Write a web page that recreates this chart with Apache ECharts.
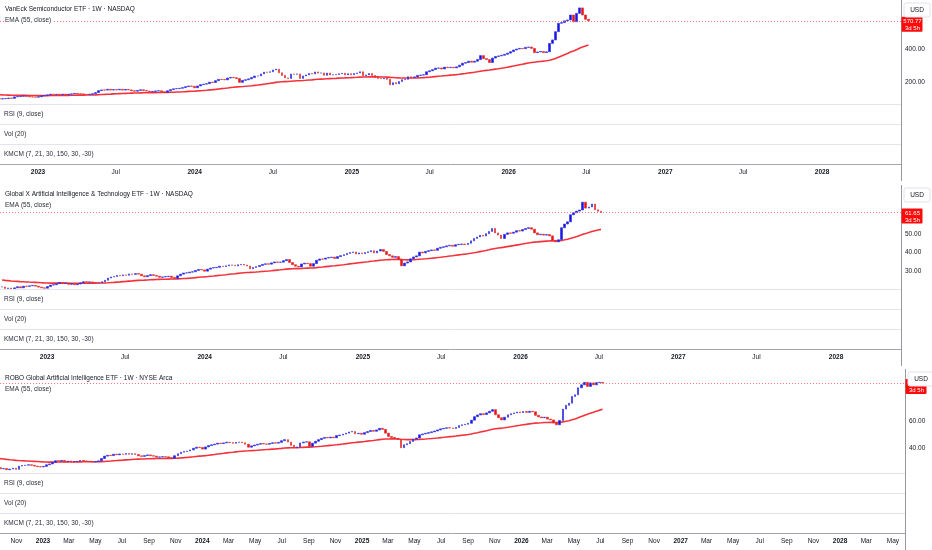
<!DOCTYPE html>
<html><head><meta charset="utf-8">
<script src="https://cdn.jsdelivr.net/npm/echarts@6/dist/echarts.min.js"></script>
<style>html,body{margin:0;padding:0;background:#fff}#c{width:932px;height:550px}</style>
</head><body><div id="c"></div>
<script>
// ---------------- DATA ----------------
const weekStart = '2022-09-19'; // first weekly bar (Monday), one bar per week
const titles = [
  'VanEck Semiconductor ETF \u00b7 1W \u00b7 NASDAQ',
  'Global X Artificial Intelligence & Technology ETF \u00b7 1W \u00b7 NASDAQ',
  'ROBO Global Artificial Intelligence ETF \u00b7 1W \u00b7 NYSE Arca'
];
const emaLabel = 'EMA (55, close)';
const paneLabels = ['RSI (9, close)', 'Vol (20)', 'KMCM (7, 21, 30, 150, 30, -30)'];
const currency = 'USD';
const countdown = '3d 5h';

const closesSMH = [
  100, 98, 97, 99, 100, 103, 101, 110, 112, 114, 116, 113, 110, 109, 108,
  111, 116, 118, 122, 126, 124, 126, 122, 126, 122, 126, 128, 131, 129, 128, 125, 124, 126, 129, 136, 148, 152, 151, 156, 151, 154, 152, 156, 151, 155, 152, 147, 144, 149, 153, 148, 145, 141, 143, 146, 147, 141, 137, 147, 154, 159, 160, 162, 166, 172, 176, 174,
  165, 176, 184, 187, 190, 199, 197, 208, 216, 215, 213, 224, 228, 226, 221, 198, 210, 214, 219, 227, 236, 237, 249, 260, 259, 262, 273, 278, 256, 240, 225, 222, 248, 247, 249, 222, 237, 243, 252, 249, 261, 254, 255, 241, 254, 243, 244, 246, 250, 253, 243, 250, 244,
  251, 255, 262, 238, 243, 251, 240, 227, 222, 220, 224, 216, 183, 196, 189, 203, 214, 216, 232, 227, 231, 240, 242, 244, 262, 268, 275, 284, 285, 279, 290, 287, 289, 286, 292, 302, 314, 318, 326, 320, 326, 336, 360, 342, 336, 318, 345, 355, 358, 362, 368, 375,
  384, 394, 400, 404, 402, 410, 412, 404, 378, 382, 385, 378, 383, 434, 455, 505, 556, 560, 571, 576, 606, 565, 616, 649, 606, 580, 570.77
];
const closesAIQ = [
  21.4, 20.6, 20.8, 20.4, 20.9, 21.5, 20.9, 21.8, 21.7, 22.0, 22.2, 21.8, 21.3, 20.9, 20.7,
  21.6, 22.4, 22.6, 23.2, 23.8, 23.4, 23.5, 22.8, 23.2, 22.6, 23.0, 23.6, 24.2, 24.0, 24.1, 23.8, 23.6, 23.7, 24.2, 25.0, 26.2, 26.8, 27.0, 27.6, 27.4, 27.9, 27.7, 28.4, 28.2, 28.6, 28.3, 27.4, 26.9, 27.5, 28.0, 27.6, 27.2, 26.6, 26.8, 27.0, 27.2, 26.5, 26.0, 27.4, 28.3, 28.9, 29.0, 29.4, 29.6, 30.3, 30.8, 30.6,
  29.9, 31.0, 31.6, 31.8, 32.0, 32.6, 32.4, 32.8, 33.3, 33.1, 32.8, 33.4, 33.6, 33.2, 32.7, 31.2, 31.9, 32.4, 33.0, 33.6, 33.9, 33.7, 34.4, 34.9, 34.7, 34.8, 35.6, 36.2, 34.6, 33.4, 32.6, 32.2, 33.8, 34.2, 34.0, 32.6, 34.0, 35.8, 36.5, 36.4, 37.0, 37.3, 37.5, 36.8, 37.8, 38.3, 38.8, 39.5, 40.0, 40.3, 39.2, 39.8, 39.4,
  40.0, 40.4, 41.0, 39.8, 40.8, 41.6, 40.6, 38.9, 38.2, 37.4, 37.8, 36.4, 32.8, 34.3, 34.9, 36.6, 37.6, 38.2, 40.2, 39.8, 40.6, 41.0, 41.4, 41.2, 42.3, 42.8, 43.1, 43.6, 43.9, 43.4, 44.2, 44.4, 44.6, 44.3, 45.0, 46.3, 47.6, 48.4, 49.3, 48.9, 50.2, 51.4, 53.0, 50.6, 49.4, 47.6, 49.8, 50.6, 50.4, 51.0, 51.8, 51.6,
  52.4, 53.0, 53.4, 52.6, 50.6, 49.6, 49.9, 49.4, 49.7, 49.0, 46.6, 45.8, 46.9, 53.4, 55.4, 56.6, 60.4, 61.5, 62.4, 63.0, 67.2, 64.0, 64.6, 66.2, 63.1, 62.3, 61.65
];
const closesTHNQ = [
  25.4, 24.6, 24.8, 23.9, 24.4, 25.1, 24.2, 26.6, 27.0, 27.3, 27.6, 27.2, 26.6, 26.2, 26.0,
  26.4, 27.6, 28.2, 29.4, 30.6, 30.2, 30.8, 29.8, 30.4, 29.6, 29.9, 30.2, 30.8, 30.4, 30.2, 29.8, 29.6, 29.9, 30.5, 32.2, 34.0, 34.6, 34.4, 35.4, 35.0, 35.6, 35.3, 35.9, 35.4, 35.8, 35.2, 34.2, 33.8, 34.4, 34.9, 34.3, 34.0, 33.2, 33.4, 33.6, 33.5, 32.8, 32.4, 34.3, 35.8, 36.9, 37.4, 37.8, 38.6, 39.8, 40.6, 40.4,
  39.2, 40.8, 41.8, 42.4, 42.9, 43.6, 43.3, 43.8, 44.3, 44.0, 43.5, 44.2, 44.4, 43.9, 42.8, 40.6, 41.6, 42.2, 42.8, 43.3, 43.0, 42.8, 43.4, 43.9, 43.6, 44.2, 45.4, 46.2, 44.4, 42.0, 40.2, 40.8, 43.8, 44.4, 44.6, 41.2, 43.6, 45.0, 46.2, 47.2, 47.8, 47.5, 48.1, 47.6, 49.2, 49.6, 50.3, 51.0, 51.9, 52.2, 50.6, 50.9, 50.2,
  51.4, 52.2, 53.0, 52.4, 53.4, 54.6, 53.8, 51.0, 48.6, 47.8, 47.2, 46.2, 40.2, 42.4, 43.2, 44.8, 46.6, 47.4, 49.8, 50.4, 50.9, 51.4, 52.0, 52.6, 53.4, 54.2, 54.6, 55.0, 54.8, 54.4, 55.2, 56.6, 57.2, 57.6, 58.3, 60.6, 63.2, 64.5, 65.4, 64.8, 66.0, 67.2, 68.4, 64.6, 62.4, 60.8, 62.8, 64.6, 65.4, 66.0, 66.6, 66.2,
  67.0, 66.4, 67.2, 66.8, 64.2, 63.0, 62.4, 62.8, 61.4, 60.8, 58.6, 57.2, 60.4, 68.8, 71.6, 73.2, 78.2, 79.4, 84.6, 86.8, 88.6, 85.6, 88.2, 86.8, 88.4, 88.6, 88.1
];
const emaStart = [125, 25.1, 32.4];      // EMA(55) value at the first visible week
const emaLength = 55;
const priceTicks = [[200, 400], [30, 40, 50], [40, 60]];

const tickDatesHalfYear = ['2023-01-01','2023-07-01','2024-01-01','2024-07-01','2025-01-01','2025-07-01','2026-01-01','2026-07-01','2027-01-01','2027-07-01','2028-01-01'];
const tickNamesHalfYear = ['2023','Jul','2024','Jul','2025','Jul','2026','Jul','2027','Jul','2028'];
const tickDatesBiMonth = ['2022-11-01','2023-01-01','2023-03-01','2023-05-01','2023-07-01','2023-09-01','2023-11-01',
  '2024-01-01','2024-03-01','2024-05-01','2024-07-01','2024-09-01','2024-11-01',
  '2025-01-01','2025-03-01','2025-05-01','2025-07-01','2025-09-01','2025-11-01',
  '2026-01-01','2026-03-01','2026-05-01','2026-07-01','2026-09-01','2026-11-01',
  '2027-01-01','2027-03-01','2027-05-01','2027-07-01','2027-09-01','2027-11-01',
  '2028-01-01','2028-03-01','2028-05-01'];
const tickNamesBiMonth = ['Nov','2023','Mar','May','Jul','Sep','Nov','2024','Mar','May','Jul','Sep','Nov',
  '2025','Mar','May','Jul','Sep','Nov','2026','Mar','May','Jul','Sep','Nov',
  '2027','Mar','May','Jul','Sep','Nov','2028','Mar','May'];

// ---------------- LAYOUT / STYLE ----------------
const FONT = "'Liberation Sans', Arial, sans-serif";
const DAY = 86400000;
const T0 = Date.UTC(2023, 0, 1);
const firstBar = Date.parse(weekStart);
const layout = [
  { top: 0,   right: 901, xr: [-88.5, 2009.8],  yr: [66.7, 697],   tD: tickDatesHalfYear, tN: tickNamesHalfYear },
  { top: 185, right: 901, xr: [-108.8, 1976.4], yr: [20.27, 76.5], tD: tickDatesHalfYear, tN: tickNamesHalfYear },
  { top: 369, right: 905, xr: [-98.5, 1974.8],  yr: [21.5, 98.5],  tD: tickDatesBiMonth,  tN: tickNamesBiMonth }
];
const closesAll = [closesSMH, closesAIQ, closesTHNQ];
const UP = '#1414f0', DOWN = '#f01010', EMA_C = '#f5323c';
const PANE_H = 104, ROW_H = 20;

const chart = echarts.init(document.getElementById('c'), null, { renderer: 'canvas' });
const grids = [], xAxes = [], yAxes = [], series = [];

closesAll.forEach((closes, k) => {
  const L = layout[k];
  grids.push({ left: 0, top: L.top, width: L.right, height: PANE_H, containLabel: false, outerBoundsMode: 'none' });
  grids.push({ left: 0, top: L.top + PANE_H, width: L.right, height: ROW_H * 3, containLabel: false, outerBoundsMode: 'none' });
  const xmin = T0 + L.xr[0] * DAY, xmax = T0 + L.xr[1] * DAY;
  const tv = L.tD.map(d => Date.parse(d));
  xAxes.push({ type: 'time', gridIndex: 2 * k, min: xmin, max: xmax, show: false });
  xAxes.push({
    type: 'value', gridIndex: 2 * k + 1, min: xmin, max: xmax, position: 'bottom',
    axisLine: { show: true, onZero: false, lineStyle: { color: '#a3a6ae', width: 1 } },
    axisTick: { show: false }, splitLine: { show: false },
    axisLabel: {
      customValues: tv, margin: 5, fontSize: 6.5, color: '#131722', fontFamily: FONT,
      formatter: (v) => {
        let j = 0, b = Infinity;
        tv.forEach((t, i) => { const d = Math.abs(t - v); if (d < b) { b = d; j = i; } });
        const n = L.tN[j];
        return /^\d{4}$/.test(n) ? '{y|' + n + '}' : n;
      },
      rich: { y: { fontWeight: 'bold', fontSize: 6.5, color: '#131722', fontFamily: FONT } }
    }
  });
  yAxes.push({
    type: 'value', gridIndex: 2 * k, position: 'right', min: L.yr[0], max: L.yr[1],
    axisLine: { show: false }, axisTick: { show: false }, splitLine: { show: false },
    axisLabel: { customValues: priceTicks[k], formatter: v => v.toFixed(2), margin: 4, fontSize: 6.5, color: '#131722', fontFamily: FONT }
  });
  yAxes.push({ type: 'value', gridIndex: 2 * k + 1, min: 0, max: 1, show: false });

  const candles = closes.map((c, i) => {
    const o = i ? closes[i - 1] : c;
    return [firstBar + i * 7 * DAY, o, c, Math.min(o, c), Math.max(o, c)];
  });
  const ema = [];
  let e = emaStart[k];
  closes.forEach((c, i) => {
    if (i > 0) e = e + (c - e) * 2 / (emaLength + 1);
    ema.push([firstBar + i * 7 * DAY, e]);
  });
  series.push({
    type: 'line', xAxisIndex: 2 * k, yAxisIndex: 2 * k, data: ema, showSymbol: false, symbol: 'none',
    lineStyle: { color: EMA_C, width: 1.6 }, z: 2, silent: true
  });
  series.push({
    type: 'candlestick', xAxisIndex: 2 * k, yAxisIndex: 2 * k, data: candles,
    encode: { x: 0, y: [1, 2, 3, 4] }, barWidth: 2.2, z: 3,
    itemStyle: { color: UP, color0: DOWN, borderColor: '#3a3ae0', borderColor0: '#e03a3a', borderWidth: 0.7 },
    markLine: {
      silent: true, symbol: ['none', 'none'], animation: false,
      label: { show: false },
      lineStyle: { color: '#f7525f', opacity: 0.8, width: 1, type: [1, 2] },
      data: [{ yAxis: closes[closes.length - 1] }]
    }
  });
});

chart.setOption({ animation: false, grid: grids, xAxis: xAxes, yAxis: yAxes, series: series });

// overlay texts, separators, scale boxes
const g = [];
const txt = (text, x, y, size, color, extra, z) => ({
  type: 'text', z: z || 100,
  style: Object.assign({ text, x, y, fontSize: size, fontFamily: FONT, fill: color, verticalAlign: 'middle', align: 'left' }, extra || {})
});
closesAll.forEach((closes, k) => {
  const L = layout[k], T = L.top, R = L.right;
  g.push(txt(titles[k], 4, T + 9, 6.5, '#131722', { backgroundColor: '#fff', padding: [1, 1] }));
  g.push(txt(emaLabel, 4, T + 20, 6.5, '#2a2e39', { backgroundColor: '#fff', padding: [1, 1] }));
  [0, 1, 2].forEach(r => {
    g.push({ type: 'line', z: 90, shape: { x1: 0, y1: T + PANE_H + r * ROW_H + 0.5, x2: R, y2: T + PANE_H + r * ROW_H + 0.5 }, style: { stroke: '#e3e5ec', lineWidth: 1 } });
    g.push(txt(paneLabels[r], 4, T + PANE_H + r * ROW_H + 10, 6.5, '#2a2e39'));
  });
  g.push({ type: 'line', z: 95, shape: { x1: R + 0.5, y1: T, x2: R + 0.5, y2: Math.min(T + 181, 550) }, style: { stroke: '#9598a1', lineWidth: 1 } });
  const last = closes[closes.length - 1];
  const py = chart.convertToPixel({ yAxisIndex: 2 * k }, last);
  g.push({ type: 'rect', z: 101, shape: { x: R + 0.5, y: py - 4, width: 21, height: 15, r: 1 }, style: { fill: '#ff0a0a' } });
  g.push(txt(last.toFixed(2), R + 11.5, py + 0.5, 6, '#ffffff', { align: 'center' }, 102));
  g.push(txt(countdown, R + 11.5, py + 7.5, 6, '#ffffff', { align: 'center' }, 102));
  g.push({ type: 'rect', z: 110, shape: { x: R + 3, y: T + 3, width: 26, height: 14, r: 2 }, style: { fill: '#fff', stroke: '#e0e3eb', lineWidth: 1 } });
  g.push(txt(currency, R + 16, T + 10, 6.5, '#131722', { align: 'center' }, 111));
});
chart.setOption({ graphic: { elements: g } });
</script>
</body></html>
